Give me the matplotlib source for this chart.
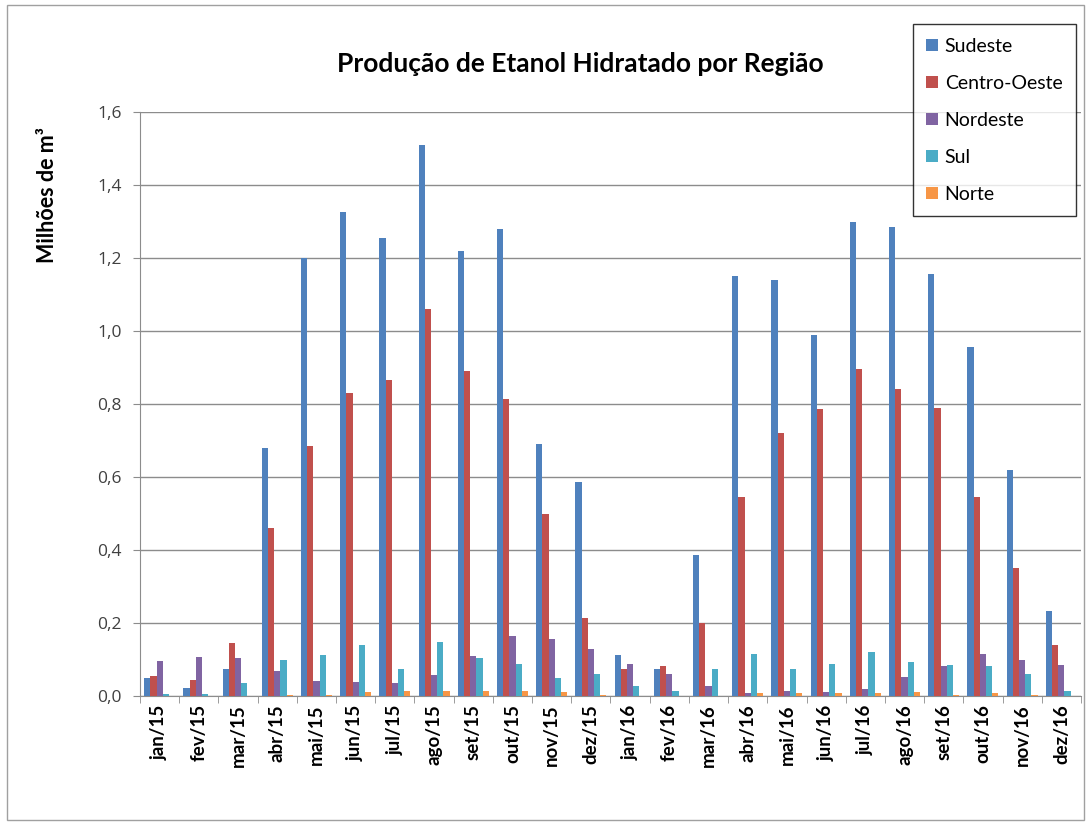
import matplotlib
matplotlib.use("Agg")
import matplotlib.pyplot as plt
import numpy as np
from matplotlib.patches import Patch, Rectangle
from matplotlib.ticker import FixedLocator, FuncFormatter

months = ["jan/15", "fev/15", "mar/15", "abr/15", "mai/15", "jun/15", "jul/15", "ago/15",
          "set/15", "out/15", "nov/15", "dez/15", "jan/16", "fev/16", "mar/16", "abr/16",
          "mai/16", "jun/16", "jul/16", "ago/16", "set/16", "out/16", "nov/16", "dez/16"]

sudeste = [0.048, 0.022, 0.073, 0.68, 1.20, 1.325, 1.255, 1.51, 1.22, 1.28, 0.69, 0.585,
           0.113, 0.075, 0.385, 1.15, 1.14, 0.99, 1.30, 1.285, 1.155, 0.955, 0.62, 0.232]
centro_oeste = [0.055, 0.045, 0.144, 0.46, 0.685, 0.83, 0.865, 1.06, 0.89, 0.815, 0.50, 0.215,
                0.075, 0.082, 0.20, 0.545, 0.72, 0.785, 0.895, 0.84, 0.79, 0.545, 0.35, 0.14]
nordeste = [0.096, 0.106, 0.103, 0.069, 0.042, 0.038, 0.035, 0.058, 0.109, 0.164, 0.157, 0.13,
            0.089, 0.059, 0.028, 0.007, 0.015, 0.010, 0.018, 0.052, 0.082, 0.116, 0.10, 0.086]
sul = [0.005, 0.005, 0.035, 0.10, 0.113, 0.14, 0.075, 0.147, 0.103, 0.089, 0.048, 0.059,
       0.028, 0.015, 0.075, 0.116, 0.073, 0.089, 0.12, 0.093, 0.086, 0.082, 0.059, 0.015]
norte = [0.001, 0.001, 0.001, 0.004, 0.004, 0.011, 0.015, 0.015, 0.014, 0.015, 0.011, 0.002,
         0.001, 0.001, 0.001, 0.007, 0.007, 0.007, 0.007, 0.011, 0.004, 0.007, 0.002, 0.001]

series_names = ["Sudeste", "Centro-Oeste", "Nordeste", "Sul", "Norte"]
series = [sudeste, centro_oeste, nordeste, sul, norte]
colors = ["#4F81BD", "#C0504D", "#8064A2", "#4BACC6", "#F79646"]

W, H = 1091, 825
fig = plt.figure(figsize=(W / 100, H / 100), dpi=100)
ax = fig.add_axes([140 / W, 1 - 696 / H, (1081 - 140) / W, (696 - 112) / H])

x = np.arange(len(months))
bw = 0.158
for i, (name, vals, c) in enumerate(zip(series_names, series, colors)):
    ax.bar(x + (i - 2) * bw, vals, width=bw, color=c, label=name, zorder=3, linewidth=0)

ax.set_xlim(-0.5, len(months) - 0.5)
ax.set_ylim(0, 1.6)
ax.set_yticks(np.arange(0, 1.61, 0.2))
ax.yaxis.set_major_formatter(FuncFormatter(lambda v, p: f"{v:.1f}".replace(".", ",")))
ax.grid(axis="y", color="#8C8C8C", linewidth=1.0, zorder=0)

ax.set_xticks(x)
ax.set_xticklabels(months, rotation=90, fontsize=13.5, fontweight="bold", family="Lato")
ax.xaxis.set_minor_locator(FixedLocator(np.arange(-0.5, len(months), 1.0)))
ax.tick_params(axis="x", which="major", length=0, pad=6)
ax.tick_params(axis="x", which="minor", length=5, color="#8C8C8C", direction="out")
ax.tick_params(axis="y", length=5, color="#8C8C8C", labelsize=12.5, pad=8)
for lbl in ax.get_yticklabels():
    lbl.set_family("Open Sans")
    lbl.set_color("#404040")

for s in ["top", "right"]:
    ax.spines[s].set_visible(False)
for s in ["left", "bottom"]:
    ax.spines[s].set_color("#8C8C8C")

fig.text(580 / W, 1 - 64 / H, "Produção de Etanol Hidratado por Região", ha="center", va="center",
         fontsize=19, fontweight="bold", family="Lato")
fig.text(47 / W, 1 - 195 / H, "Milhões de m³", rotation=90, ha="center", va="center",
         fontsize=15.5, fontweight="bold", family="Lato")

handles = [Patch(facecolor=c, edgecolor="none") for c in colors]
leg = fig.legend(handles, series_names, loc="upper right", bbox_to_anchor=(1076 / W, 1 - 24 / H),
                 bbox_transform=fig.transFigure, frameon=True, fancybox=False,
                 edgecolor="black", prop={"family": "Lato", "size": 14},
                 handlelength=0.6, handleheight=0.6, handletextpad=0.35,
                 labelspacing=1.03, borderpad=0.7, borderaxespad=0)
leg.get_frame().set_linewidth(1.0)
leg.set_zorder(10)

fig.patches.append(Rectangle((7 / W, 5 / H), (W - 14) / W, (H - 10) / H, transform=fig.transFigure,
                             fill=False, edgecolor="#A0A0A0", linewidth=1))

fig.savefig("out.png", dpi=100)
